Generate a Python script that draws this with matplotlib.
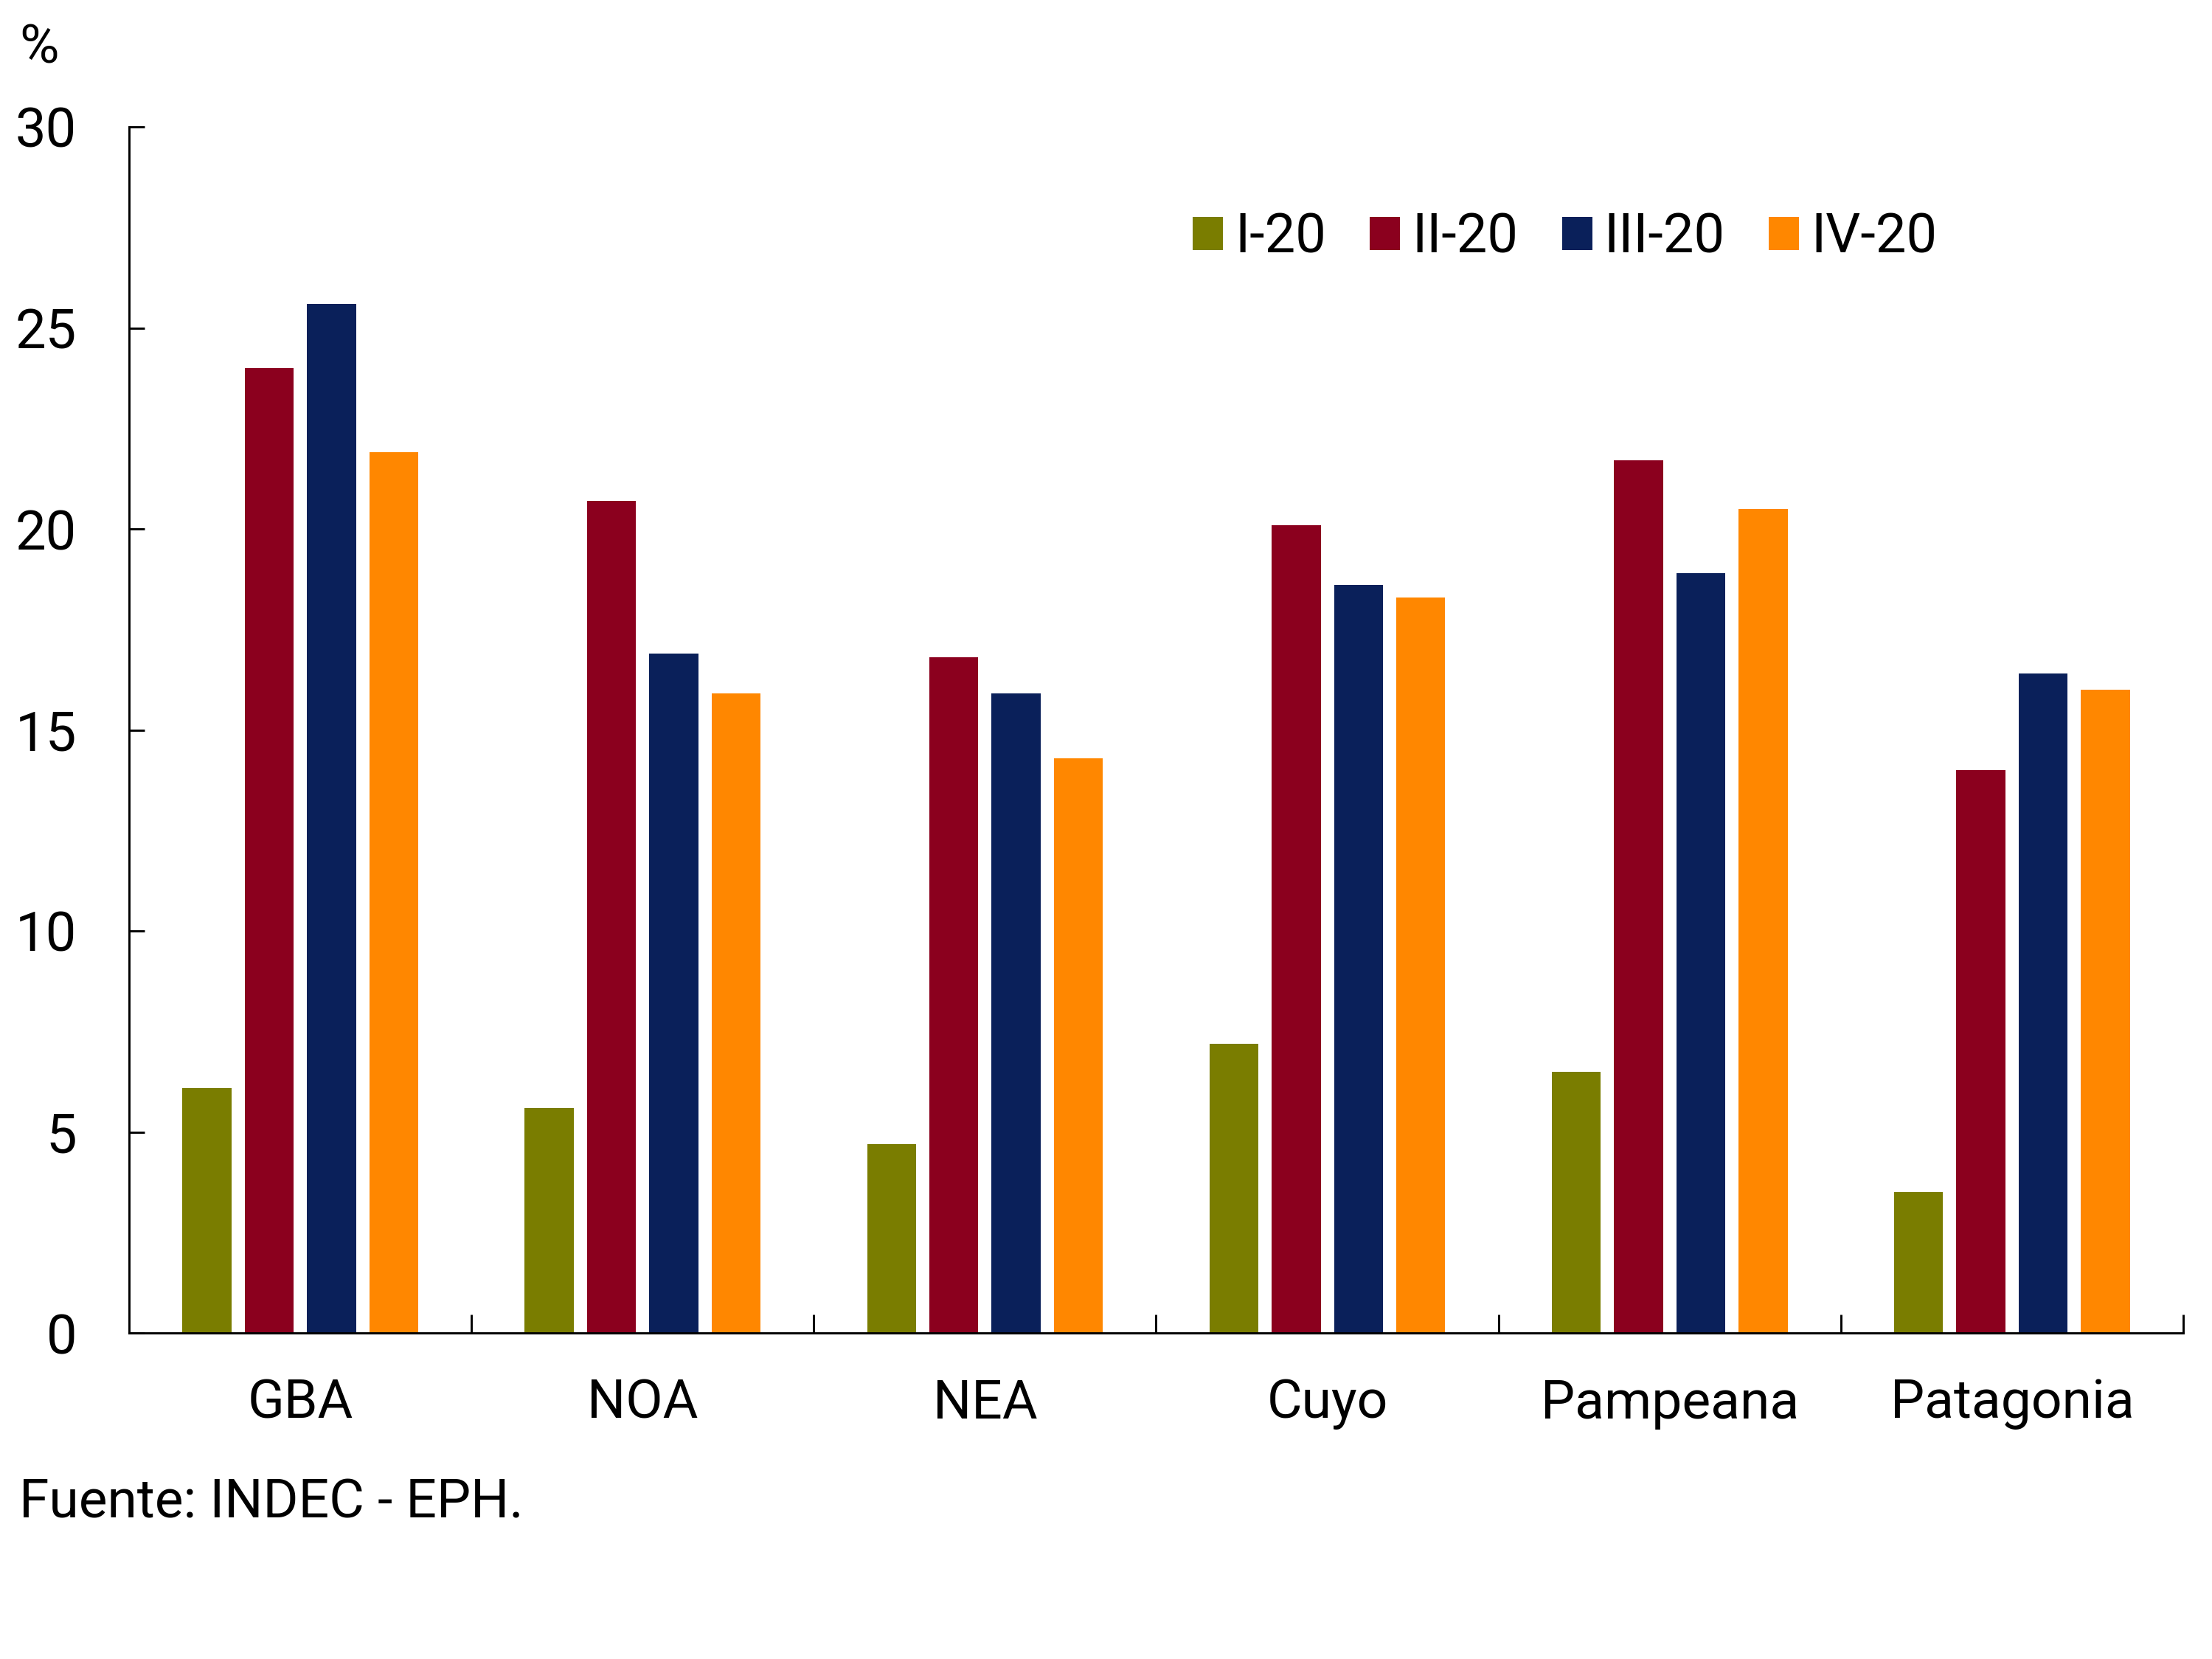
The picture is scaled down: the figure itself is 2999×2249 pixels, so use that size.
import matplotlib
matplotlib.use("Agg")
import matplotlib.pyplot as plt
import numpy as np

plt.rcParams['font.family'] = ['Roboto', 'DejaVu Sans']

categories = ["GBA", "NOA", "NEA", "Cuyo", "Pampeana", "Patagonia"]
series_names = ["I-20", "II-20", "III-20", "IV-20"]
s_I = [6.1, 5.6, 4.7, 7.2, 6.5, 3.5]
s_II = [24.0, 20.7, 16.8, 20.1, 21.7, 14.0]
s_III = [25.6, 16.9, 15.9, 18.6, 18.9, 16.4]
s_IV = [21.9, 15.9, 14.3, 18.3, 20.5, 16.0]
colors = ["#7A7D00", "#8B001E", "#0A205A", "#FF8700"]
yticks = [0, 5, 10, 15, 20, 25, 30]

W, H = 2999, 2249
fig = plt.figure(figsize=(W / 300, H / 300), dpi=300)
ax = fig.add_axes([175 / W, 1 - 1807 / H, (2960 - 175) / W, (1807 - 172) / H])

x = np.arange(len(categories))
width = 0.143
step = 0.182
data = [s_I, s_II, s_III, s_IV]
for i, (vals, c, name) in enumerate(zip(data, colors, series_names)):
    ax.bar(x + (i - 1.5) * step, vals, width=width, color=c, label=name, linewidth=0)

ax.set_xlim(-0.5, len(categories) - 0.5)
ax.set_ylim(0, 30)
ax.set_yticks(yticks)
ax.set_yticklabels([str(v) for v in yticks])

ax.set_xticks(np.arange(0.5, len(categories), 1.0))
ax.set_xticklabels([])
ax.set_xticks(x, minor=True)
ax.set_xticklabels(categories, minor=True)

for s in ["top", "right"]:
    ax.spines[s].set_visible(False)
for s in ["left", "bottom"]:
    ax.spines[s].set_linewidth(0.7)

ax.tick_params(axis='y', direction='in', length=5, width=0.7, labelsize=17.8, pad=17)
ax.tick_params(axis='x', which='major', direction='in', length=6, width=0.7)
ax.tick_params(axis='x', which='minor', length=0, labelsize=17.6, pad=14.8)

fig.legend(loc='center left', bbox_to_anchor=(1617 / W, 1 - 322 / H), ncol=4,
           frameon=False, fontsize=17.8, handlelength=0.55, handleheight=0.55,
           handletextpad=0.22, columnspacing=0.8, borderpad=0, borderaxespad=0)

fig.text(26 / W, 1 - 85 / H, "%", fontsize=17.6, va='baseline', ha='left')
fig.text(26 / W, 1 - 2057 / H, "Fuente: INDEC - EPH.", fontsize=17.6, va='baseline', ha='left')

fig.savefig("out.png", dpi=300, facecolor='white')
